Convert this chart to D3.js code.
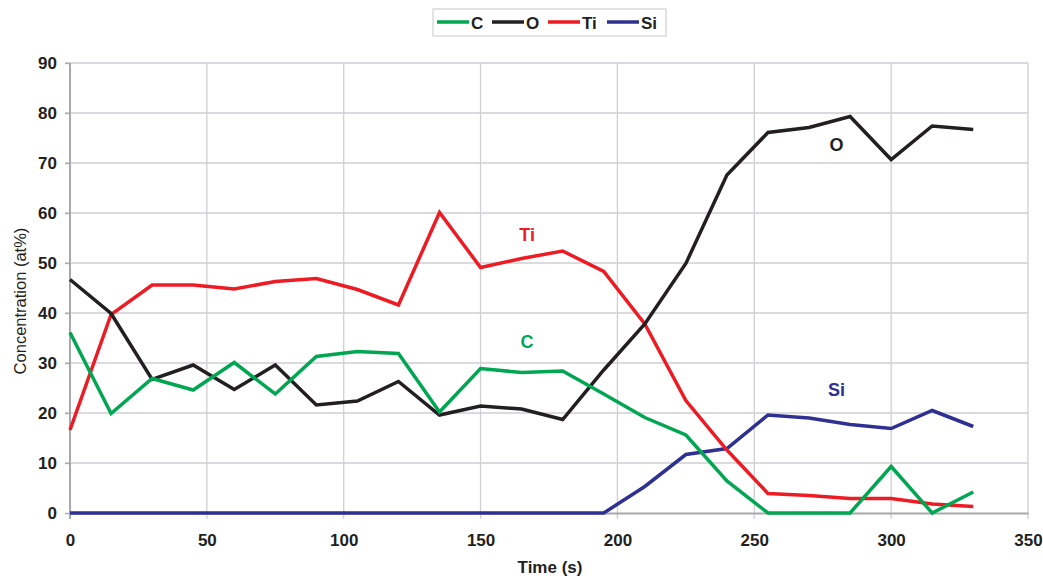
<!DOCTYPE html>
<html>
<head>
<meta charset="utf-8">
<script src="https://cdn.jsdelivr.net/npm/d3@7"></script>
<style>
body{margin:0;background:#fff;font-family:"Liberation Sans",Arial,sans-serif;}
</style>
</head>
<body>
<main></main>
<script>
const w=1043;
const h=578;
const times=[0,15,30,45,60,75,90,105,120,135,150,165,180,195,210,225,240,255,270,285,300,315,330];
const carbon=[36.1,19.9,26.9,24.6,30.1,23.8,31.3,32.3,31.9,20.2,28.9,28.1,28.4,23.8,19.1,15.6,6.4,0,0,0,9.3,0,4.2];
const oxygen=[46.7,39.9,26.7,29.6,24.7,29.6,21.6,22.4,26.3,19.6,21.4,20.8,18.7,28.6,37.8,49.9,67.6,76.1,77.1,79.3,70.7,77.4,76.7];
const titanium=[16.6,39.7,45.6,45.6,44.8,46.3,46.9,44.7,41.6,60.1,49.1,50.9,52.4,48.3,37.8,22.5,12.6,3.9,3.5,2.9,2.9,1.8,1.3];
const silicon=[0,0,0,0,0,0,0,0,0,0,0,0,0,0,5.3,11.7,12.9,19.6,19.0,17.7,16.9,20.5,17.3];
const seriesNames=["C","O","Ti","Si"];
const seriesColors=["#00a651","#231f20","#ed1c24","#2e3192"];
const xTicks=[0,50,100,150,200,250,300,350];
const yTicks=[0,10,20,30,40,50,60,70,80,90];
// in-plot labels: [name, time, value]
const inlineLabels=[["Ti",167,54.5],["C",167,33],["O",280,72.5],["Si",280,23.5]];

const series=[carbon,oxygen,titanium,silicon].map((vals,i)=>({
    name:seriesNames[i],color:seriesColors[i],
    values:vals.map((v,j)=>({t:times[j],v:v}))
}));

const padL=70,padR=1028,padT=63,padB=513;
const xScale=d3.scaleLinear().domain([0,350]).range([padL,padR]);
const yScale=d3.scaleLinear().domain([0,90]).range([padB,padT]);

const svg=d3.select("main").append("svg")
    .attr("width",w)
    .attr("height",h);

// grid
svg.append("g").selectAll("line")
   .data(yTicks.slice(1))
   .enter().append("line")
   .attr("x1",padL-5).attr("x2",padR)
   .attr("y1",d=>yScale(d)).attr("y2",d=>yScale(d))
   .attr("stroke","#cfcfd4").attr("stroke-width",1.3);
svg.append("g").selectAll("line")
   .data(xTicks.slice(1))
   .enter().append("line")
   .attr("x1",d=>xScale(d)).attr("x2",d=>xScale(d))
   .attr("y1",padT).attr("y2",padB+6)
   .attr("stroke","#cfcfd4").attr("stroke-width",1.3);

// axes
const xAxis=d3.axisBottom(xScale).tickValues(xTicks).tickSize(0).tickPadding(21);
const yAxis=d3.axisLeft(yScale).tickValues(yTicks).tickSize(5).tickPadding(8);
const gx=svg.append("g")
   .attr("transform","translate(0,"+padB+")")
   .call(xAxis);
const gy=svg.append("g")
   .attr("transform","translate("+padL+",0)")
   .call(yAxis);
[gx,gy].forEach(g=>{
    g.select(".domain").attr("stroke","#a7a7ad").attr("stroke-width",2);
    g.selectAll(".tick line").attr("stroke","#a7a7ad").attr("stroke-width",1.3);
    g.selectAll("text")
     .attr("fill","#231f20")
     .style("font-family","'Liberation Sans',Arial,sans-serif")
     .style("font-size","17px")
     .style("font-weight","bold");
});
gy.select(".domain").attr("d","M0,"+(padB+6)+"V"+padT);

svg.append("text")
   .attr("x",550)
   .attr("y",573)
   .attr("text-anchor","middle")
   .style("font-size","17px")
   .style("font-weight","bold")
   .attr("fill","#231f20")
   .text("Time (s)");
svg.append("text")
   .attr("transform","translate(26,301) rotate(-90)")
   .attr("text-anchor","middle")
   .style("font-size","16.5px")
   .attr("fill","#231f20")
   .text("Concentration (at%)");

// lines
const line=d3.line().x(d=>xScale(d.t)).y(d=>yScale(d.v));
svg.append("g").selectAll("path")
   .data(series.slice().reverse())
   .enter().append("path")
   .attr("d",d=>line(d.values))
   .attr("fill","none")
   .attr("stroke",d=>d.color)
   .attr("stroke-width",3.5)
   .attr("stroke-linejoin","miter");

// labels in the plot
svg.append("g").selectAll("text")
   .data(inlineLabels)
   .enter().append("text")
   .attr("x",d=>xScale(d[1]))
   .attr("y",d=>yScale(d[2]))
   .attr("text-anchor","middle")
   .style("font-size","18px")
   .style("font-weight","bold")
   .attr("fill",d=>seriesColors[seriesNames.indexOf(d[0])])
   .text(d=>d[0]);

// legend
const legend=svg.append("g").attr("transform","translate(433,9)");
legend.append("rect")
      .attr("width",233).attr("height",27)
      .attr("fill","#fff").attr("stroke","#c8c8c8");
const legendX=[4,59,115,174];
seriesNames.forEach((n,i)=>{
    legend.append("line")
          .attr("x1",legendX[i]).attr("x2",legendX[i]+32)
          .attr("y1",13).attr("y2",13)
          .attr("stroke",seriesColors[i]).attr("stroke-width",3.5);
    legend.append("text")
          .attr("x",legendX[i]+34).attr("y",20)
          .style("font-size","17px")
          .style("font-weight","bold")
          .attr("fill","#231f20")
          .text(n);
});
</script>
</body>
</html>
